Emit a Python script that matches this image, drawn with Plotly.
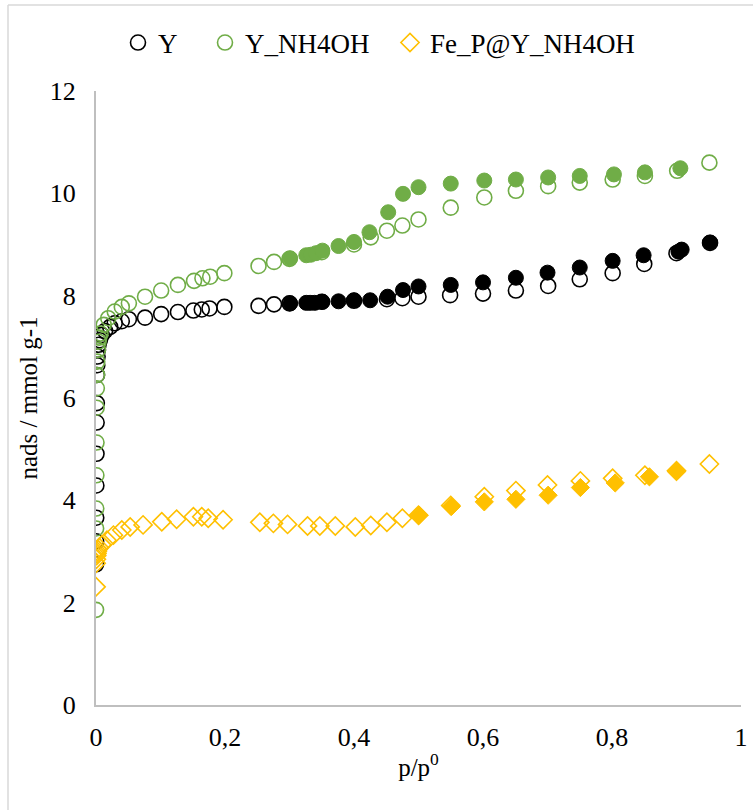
import plotly.graph_objects as go

# Zeolite Y, as-received: adsorption branch (open) and desorption branch (filled)
y_ads_p = [0.0001, 0.0002, 0.0004, 0.0006, 0.0008, 0.001, 0.0013, 0.0016, 0.002, 0.0025,
           0.003, 0.004, 0.006, 0.009, 0.014, 0.022, 0.029, 0.040, 0.051, 0.076, 0.101,
           0.127, 0.151, 0.164, 0.176, 0.199, 0.252, 0.276, 0.30, 0.35, 0.40, 0.451,
           0.475, 0.50, 0.549, 0.60, 0.651, 0.701, 0.75, 0.801, 0.85, 0.90, 0.952]
y_ads_n = [2.75, 3.20, 3.66, 4.29, 4.91, 5.52, 5.90, 6.45, 6.64, 6.81,
           6.94, 7.04, 7.13, 7.23, 7.31, 7.39, 7.46, 7.50, 7.54, 7.57, 7.64,
           7.68, 7.71, 7.73, 7.75, 7.78, 7.80, 7.83, 7.85, 7.88, 7.90, 7.93,
           7.95, 7.98, 8.01, 8.04, 8.10, 8.19, 8.32, 8.44, 8.62, 8.83, 9.03]
y_des_p = [0.301, 0.326, 0.332, 0.339, 0.351, 0.376, 0.40, 0.425, 0.452, 0.476,
           0.50, 0.55, 0.60, 0.651, 0.70, 0.75, 0.801, 0.849, 0.903, 0.908, 0.952]
y_des_n = [7.85, 7.86, 7.86, 7.86, 7.88, 7.89, 7.91, 7.91, 7.98, 8.11,
           8.18, 8.21, 8.26, 8.35, 8.45, 8.55, 8.68, 8.79, 8.86, 8.90, 9.04]

# Zeolite Y treated with NH4OH
nh_ads_p = [0.0001, 0.0002, 0.0004, 0.0006, 0.0008, 0.001, 0.0013, 0.0016, 0.002, 0.003,
            0.004, 0.005, 0.007, 0.012, 0.019, 0.029, 0.040, 0.051, 0.076, 0.101, 0.127,
            0.152, 0.165, 0.177, 0.199, 0.252, 0.276, 0.30, 0.35, 0.40, 0.426, 0.451,
            0.475, 0.50, 0.55, 0.602, 0.651, 0.701, 0.75, 0.801, 0.851, 0.901, 0.951]
nh_ads_n = [1.86, 3.45, 3.84, 4.49, 5.13, 5.81, 6.19, 6.45, 6.71, 6.94,
            7.10, 7.18, 7.26, 7.43, 7.56, 7.69, 7.78, 7.85, 7.98, 8.10, 8.21,
            8.29, 8.34, 8.37, 8.44, 8.58, 8.66, 8.72, 8.85, 9.00, 9.14, 9.27,
            9.37, 9.49, 9.72, 9.92, 10.05, 10.14, 10.21, 10.27, 10.34, 10.44, 10.60]
nh_des_p = [0.301, 0.326, 0.333, 0.341, 0.351, 0.376, 0.40, 0.424, 0.453, 0.476,
            0.50, 0.55, 0.602, 0.651, 0.701, 0.75, 0.803, 0.851, 0.906]
nh_des_n = [8.73, 8.79, 8.80, 8.83, 8.88, 8.97, 9.05, 9.24, 9.63, 9.99,
            10.12, 10.19, 10.25, 10.27, 10.31, 10.34, 10.37, 10.41, 10.49]

# Fe_P supported on NH4OH-treated zeolite Y
fe_ads_p = [0.0001, 0.0003, 0.0006, 0.001, 0.0015, 0.002, 0.003, 0.005, 0.009, 0.017,
            0.027, 0.040, 0.053, 0.073, 0.102, 0.125, 0.151, 0.164, 0.174, 0.197,
            0.254, 0.275, 0.297, 0.328, 0.347, 0.371, 0.402, 0.426, 0.451, 0.475,
            0.50, 0.55, 0.602, 0.651, 0.70, 0.751, 0.801, 0.851, 0.90, 0.951]
fe_ads_n = [2.31, 2.77, 2.85, 2.92, 2.96, 3.00, 3.04, 3.08, 3.13, 3.22,
            3.32, 3.42, 3.48, 3.52, 3.58, 3.63, 3.68, 3.68, 3.65, 3.62,
            3.57, 3.55, 3.53, 3.50, 3.50, 3.50, 3.48, 3.51, 3.57, 3.65,
            3.71, 3.90, 4.07, 4.19, 4.30, 4.38, 4.43, 4.49, 4.58, 4.71]
fe_des_p = [0.501, 0.551, 0.602, 0.651, 0.701, 0.751, 0.805, 0.858, 0.90]
fe_des_n = [3.71, 3.88, 3.97, 4.02, 4.10, 4.25, 4.34, 4.46, 4.56]

BLACK = "#000000"
GREEN = "#70AD47"
GOLD = "#FFC000"
FONT = "Liberation Serif"

fig = go.Figure()

def open_trace(x, y, name, color, symbol, size, legend):
    fig.add_trace(go.Scatter(
        x=x, y=y, mode="markers", name=name, legend=legend,
        marker=dict(symbol=symbol, size=size, color="rgba(0,0,0,0)",
                    line=dict(color=color, width=1.6)),
    ))

def filled_trace(x, y, name, color, symbol, size):
    fig.add_trace(go.Scatter(
        x=x, y=y, mode="markers", name=name, showlegend=False,
        marker=dict(symbol=symbol, size=size, color=color,
                    line=dict(color=color, width=1)),
    ))

open_trace(y_ads_p, y_ads_n, "Y", BLACK, "circle", 15, "legend")
open_trace(nh_ads_p, nh_ads_n, "Y_NH4OH", GREEN, "circle", 15, "legend2")
open_trace(fe_ads_p, fe_ads_n, "Fe_P@Y_NH4OH", GOLD, "diamond", 14, "legend3")
filled_trace(y_des_p, y_des_n, "Y (desorption)", BLACK, "circle", 15)
filled_trace(nh_des_p, nh_des_n, "Y_NH4OH (desorption)", GREEN, "circle", 15)
filled_trace(fe_des_p, fe_des_n, "Fe_P@Y_NH4OH (desorption)", GOLD, "diamond", 14)

# Layout geometry in pixels
L, R, T, B = 96, 12, 91, 105
W, H = 753, 810
pw, ph = W - L - R, H - T - B
def px(X):
    return (X - L) / pw
def py(Y):
    return (H - B - Y) / ph

# Light frame around the whole chart area
frame = dict(color="#d9d9d9", width=1.5)
shapes = [
    dict(type="line", xref="paper", yref="paper", x0=px(8), x1=px(8),
         y0=py(H + 5), y1=py(5), line=frame),
    dict(type="line", xref="paper", yref="paper", x0=px(8), x1=px(W + 5),
         y0=py(5), y1=py(5), line=frame),
]

def legend_box(left_px):
    return dict(orientation="h", x=px(left_px), xanchor="left", y=py(43), yanchor="middle",
                font=dict(family=FONT, size=27), itemwidth=30, bgcolor="rgba(0,0,0,0)")

fig.update_layout(
    width=W, height=H,
    margin=dict(l=L, r=R, t=T, b=B, autoexpand=False),
    paper_bgcolor="white", plot_bgcolor="white",
    separators=",.",
    font=dict(family=FONT, size=25, color="#000000"),
    showlegend=True,
    legend=legend_box(118),
    legend2=legend_box(205),
    legend3=legend_box(390),
    shapes=shapes,
    xaxis=dict(range=[0, 1], tickvals=[0, 0.2, 0.4, 0.6, 0.8, 1], automargin=False,
               showgrid=False, zeroline=False, showline=True,
               linecolor="#bfbfbf", linewidth=2, ticks="", ticklabelstandoff=8,
               tickfont=dict(family=FONT, size=26),
               title=dict(text="p/p<sup>0</sup>", font=dict(family=FONT, size=25), standoff=7)),
    yaxis=dict(range=[0, 12], tickvals=[0, 2, 4, 6, 8, 10, 12], automargin=False,
               showgrid=False, zeroline=False, showline=True,
               linecolor="#bfbfbf", linewidth=2, ticks="", ticklabelstandoff=13,
               tickfont=dict(family=FONT, size=26),
               title=dict(text="nads / mmol g-1", font=dict(family=FONT, size=25), standoff=5)),
)

fig.write_html("out.html")
